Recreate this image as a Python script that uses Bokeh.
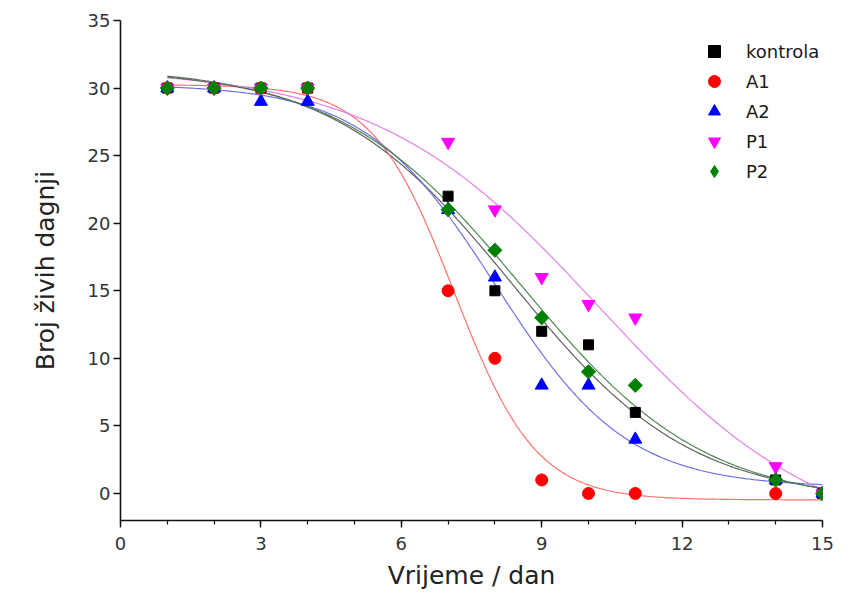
import numpy as np
from bokeh.plotting import figure
from bokeh.models import Legend, LegendItem, Label, Range1d, FixedTicker
from bokeh.embed import file_html
from bokeh.resources import INLINE

# ---- data ----
days = [1, 2, 3, 4, 7, 8, 9, 10, 11, 14, 15]
kontrola = [30, 30, 30, 30, 22, 15, 12, 11, 6, 1, 0]
a1 = [30, 30, 30, 30, 15, 10, 1, 0, 0, 0, 0]
a2 = [30, 30, 29, 29, 21, 16, 8, 8, 4, 1, 0]
p1 = [30, 30, 30, 30, 26, 21, 16, 14, 13, 2, 0]
p2 = [30, 30, 30, 30, 21, 18, 13, 9, 8, 1, 0]

series_names = ["kontrola", "A1", "A2", "P1", "P2"]
series_values = [kontrola, a1, a2, p1, p2]
marker_colors = ["#000000", "#ff0000", "#0000ff", "#ff00ff", "#008000"]
line_colors = ["#505050", "#ff6060", "#6060e0", "#e070e8", "#407840"]
markers = ["square", "circle", "triangle", "inverted_triangle", "square"]
legend_markers = ["square", "circle", "triangle", "inverted_triangle", "diamond"]
marker_sizes = [10, 12, 13, 13, 10]
marker_angles = [0, 0, 0, 0, np.pi / 4]

x_ticks = [0, 3, 6, 9, 12, 15]
x_minor_ticks = list(range(0, 16))
y_ticks = [0, 5, 10, 15, 20, 25, 30, 35]


def boltz(p, x):
    a_1, a_2, x0, dx = p
    z = np.clip((x - x0) / dx, -60, 60)
    return a_2 + (a_1 - a_2) / (1.0 + np.exp(z))


def fit_boltzmann(x, y):
    """Least-squares Boltzmann fit of the measured points (as in the original figure)."""
    x = np.asarray(x, float)
    y = np.asarray(y, float)
    half = (y.max() + y.min()) / 2
    x0 = x[np.argmin(np.abs(y - half))]
    p = np.array([y.max(), y.min(), x0, 1.0])
    lam = 1e-2

    def sse(q):
        r = y - boltz(q, x)
        return float(r @ r)

    cur = sse(p)
    for _ in range(3000):
        r = y - boltz(p, x)
        J = np.empty((x.size, 4))
        base = boltz(p, x)
        for k in range(4):
            h = 1e-6 * max(1.0, abs(p[k]))
            dp = p.copy()
            dp[k] += h
            J[:, k] = (boltz(dp, x) - base) / h
        A = J.T @ J
        g = J.T @ r
        try:
            step = np.linalg.solve(A + lam * np.diag(np.diag(A) + 1e-12), g)
        except np.linalg.LinAlgError:
            lam *= 10
            continue
        q = p + step
        if abs(q[3]) < 1e-3:
            lam *= 10
            continue
        new = sse(q)
        if new < cur:
            p, cur = q, new
            lam = max(lam * 0.3, 1e-12)
            if np.abs(step).max() < 1e-11:
                break
        else:
            lam *= 10
            if lam > 1e12:
                break
    return p


FONT = "DejaVu Sans"

p = figure(width=834, height=596, output_backend="svg", toolbar_location=None,
           x_range=Range1d(0, 15), y_range=Range1d(-2, 35),
           min_border_left=120, min_border_right=12, min_border_top=20,
           min_border_bottom=76)
p.outline_line_color = None
p.grid.visible = False
p.background_fill_color = "white"

xs_fit = np.linspace(min(days), max(days), 400)
for vals, lc in zip(series_values, line_colors):
    params = fit_boltzmann(days, vals)
    p.line(xs_fit, boltz(params, xs_fit), line_color=lc, line_width=1.2, line_alpha=0.9)

legend_items = []
for name, vals, mc, mk, lm, ms, ang in zip(series_names, series_values, marker_colors,
                                           markers, legend_markers, marker_sizes, marker_angles):
    if lm != mk:
        # legend key renderer (diamond), drawn underneath the rotated-square markers
        key = p.scatter(days, vals, marker=lm, size=11, fill_color=mc, line_color=mc)
        p.scatter(days, vals, marker=mk, size=ms, angle=ang, fill_color=mc, line_color=mc)
    else:
        key = p.scatter(days, vals, marker=mk, size=ms, angle=ang, fill_color=mc, line_color=mc)
    legend_items.append(LegendItem(label=name, renderers=[key]))

legend = Legend(items=legend_items,
                location=(579, 334), padding=0, spacing=0, margin=0,
                glyph_width=30, glyph_height=30, label_height=30, label_standoff=17,
                border_line_color=None, background_fill_alpha=0,
                label_text_font=FONT, label_text_font_size="18px",
                label_text_color="#1a1a1a")
p.add_layout(legend, "center")

for ax in (p.xaxis[0], p.yaxis[0]):
    ax.axis_line_width = 1.6
    ax.axis_line_color = "#111111"
    ax.major_tick_line_color = "#111111"
    ax.major_tick_line_width = 1.4
    ax.major_tick_in = 0
    ax.major_tick_out = 7
    ax.major_label_text_font = FONT
    ax.major_label_text_font_size = "18px"
    ax.major_label_text_color = "#333333"
    ax.axis_label_text_font = FONT
    ax.axis_label_text_font_size = "25px"
    ax.axis_label_text_font_style = "normal"
    ax.axis_label_text_color = "#222222"

p.xaxis.ticker = FixedTicker(ticks=x_ticks, minor_ticks=x_minor_ticks)
p.xaxis.minor_tick_in = 0
p.xaxis.minor_tick_out = 4
p.xaxis.minor_tick_line_color = "#111111"
p.xaxis.minor_tick_line_width = 1.2
p.xaxis.axis_label = "Vrijeme / dan"
p.xaxis.major_label_standoff = 9
p.xaxis.axis_label_standoff = 8

p.yaxis.ticker = FixedTicker(ticks=y_ticks)
p.yaxis.minor_tick_line_color = None
p.yaxis.axis_label = "Broj živih dagnji"
p.yaxis.major_label_standoff = 3
p.yaxis.axis_label_standoff = 25

p.add_layout(Label(x=-2.31, y=33.2, text="A", text_font=FONT, text_font_size="24px",
                   text_baseline="middle", text_align="left", text_color="#000000"))
p.add_layout(Label(x=14.72, y=-7.4, text="Ac", text_font="Liberation Sans",
                   text_font_size="15px", text_baseline="bottom", text_align="left",
                   text_color="#e2e2e2"))

open("out.html", "w").write(file_html(p, INLINE))
